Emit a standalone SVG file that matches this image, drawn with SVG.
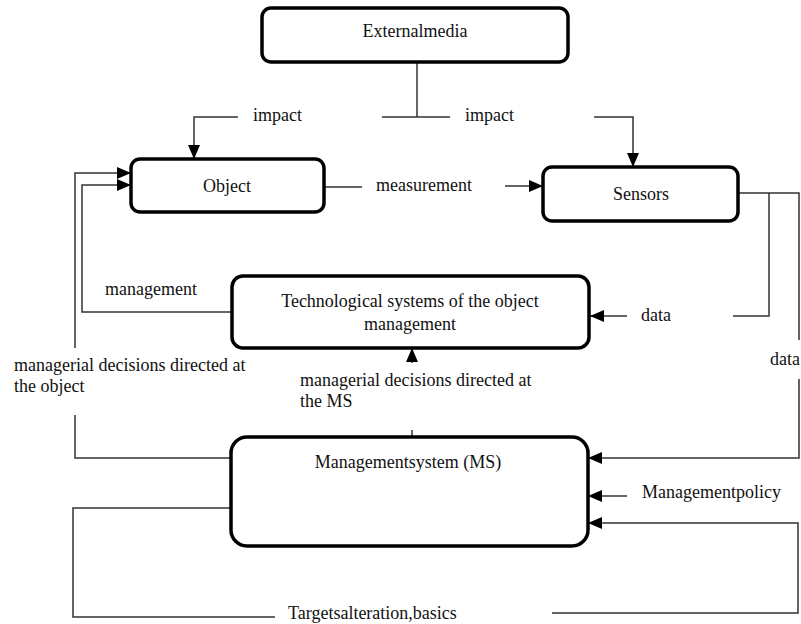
<svg xmlns="http://www.w3.org/2000/svg" width="801" height="624" viewBox="0 0 801 624">
<defs>
<marker id="ah" markerUnits="userSpaceOnUse" markerWidth="14" markerHeight="12" refX="14" refY="6" orient="auto">
<path d="M0,0 L14,6 L0,12 z" fill="#000"/>
</marker>
<style>
.box{fill:#fff;stroke:#000;stroke-width:3.5}
.c{fill:none;stroke:#333;stroke-width:1.5}
.a{marker-end:url(#ah)}
text{font-family:"Liberation Serif","Times New Roman",serif;font-size:18px;fill:#111}
.m{text-anchor:middle}
</style>
</defs>
<rect width="801" height="624" fill="#fff"/>
<g id="connectors">
<polyline class="c" points="417,62 417,117"/>
<polyline class="c" points="382,117 450,117"/>
<polyline class="c a" points="238,117 194,117 194,159"/>
<polyline class="c a" points="594,117 633,117 633,167"/>
<polyline class="c" points="324,187 362,187"/>
<polyline class="c a" points="505,186 543,186"/>
<polyline class="c" points="738,193 799,193 799,340"/>
<polyline class="c" points="769,193 769,316 733,316"/>
<polyline class="c a" points="627,316 590,316"/>
<polyline class="c a" points="799,379 799,458 588,458"/>
<polyline class="c a" points="232,312 82,312 82,185 131,185"/>
<polyline class="c a" points="75,348 75,173 131,173"/>
<polyline class="c" points="75,415 75,458 231,458"/>
<polyline class="c a" points="412,363 412,348"/>
<polyline class="c" points="412,430 412,437"/>
<polyline class="c a" points="627,496 588,496"/>
<polyline class="c a" points="552,613 798,613 798,523 588,523"/>
<polyline class="c" points="231,508 73,508 73,617 275,617"/>
</g>
<g id="externalmedia">
<rect class="box" x="262" y="8" width="306" height="54" rx="9"/>
<text class="m" x="415" y="37">Externalmedia</text>
</g>
<g id="object">
<rect class="box" x="131" y="159" width="193" height="53" rx="9"/>
<text class="m" x="227" y="192">Object</text>
</g>
<g id="sensors">
<rect class="box" x="543" y="167" width="195" height="54" rx="9"/>
<text class="m" x="641" y="200">Sensors</text>
</g>
<g id="tech">
<rect class="box" x="232" y="276" width="357" height="72" rx="11"/>
<text class="m" x="410" y="307">Technological systems of the object</text>
<text class="m" x="410" y="330">management</text>
</g>
<g id="ms">
<rect class="box" x="231" y="437" width="357" height="109" rx="16"/>
<text class="m" x="408" y="468">Managementsystem (MS)</text>
</g>
<g id="labels">
<text x="253" y="121">impact</text>
<text x="465" y="121">impact</text>
<text x="376" y="191">measurement</text>
<text x="105" y="295">management</text>
<text x="641" y="321">data</text>
<text x="14" y="371">managerial decisions directed at</text>
<text x="14" y="392">the object</text>
<text x="300" y="386">managerial decisions directed at</text>
<text x="300" y="407">the MS</text>
<text x="770" y="365">data</text>
<text x="642" y="498">Managementpolicy</text>
<text x="288" y="619">Targetsalteration,basics</text>
</g>
</svg>
